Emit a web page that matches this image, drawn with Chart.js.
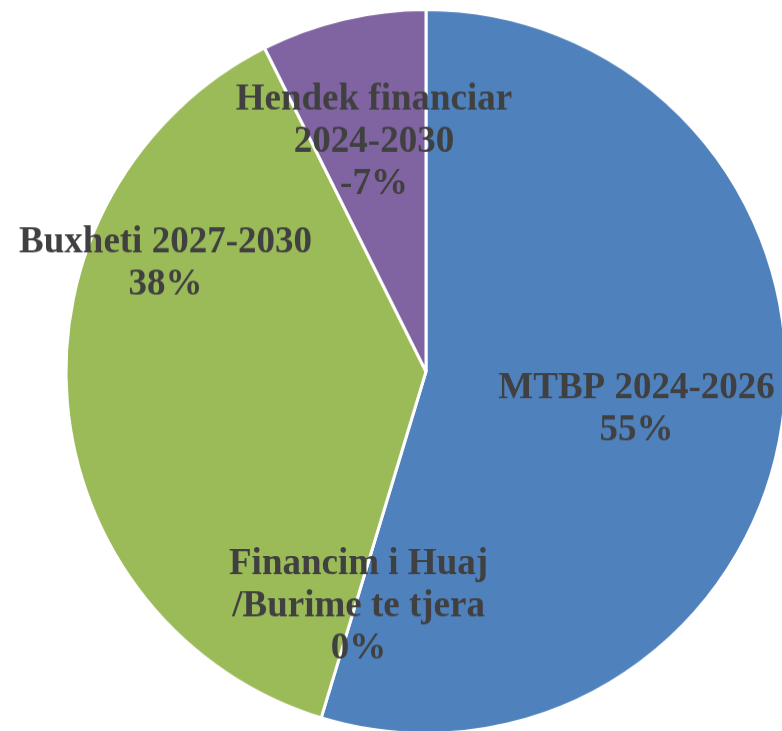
<!DOCTYPE html>
<html>
<head>
<meta charset="utf-8">
<script src="https://cdn.jsdelivr.net/npm/chart.js@4/dist/chart.umd.min.js"></script>
<style>
  html, body { margin: 0; padding: 0; background: #fff; overflow: hidden; width: 782px; height: 731px; }
  canvas { display: block; }
</style>
</head>
<body>
<canvas id="myChart" width="852" height="740" style="width:852px;height:744px"></canvas>
<script>
// datos del grafico
const categories = ['MTBP 2024-2026', 'Financim i Huaj\n/Burime te tjera', 'Buxheti 2027-2030', 'Hendek financiar\n2024-2030'];
const shares = [54.7, 0, 37.9, -7.4];   // % (hendek = negativo)
const sliceColors = ['#4F81BD', '#4F81BD', '#9BBB59', '#8064A2'];

// posicion de etiquetas: desplazamiento angular (grados) y fraccion del radio
const labelAngleShift = [1.1, -0.7, 27.5, 0.6];
const labelRadius = [0.593, 0.671, 0.784, 0.656];

const pctText = shares.map(v => Math.round(v) + '%');

// plugin para las etiquetas
const pieLabels = {
  id: 'pieLabels',
  afterDatasetsDraw(chart) {
    const ctx = chart.ctx;
    const meta = chart.getDatasetMeta(0);
    ctx.save();
    ctx.font = 'bold 37px "Liberation Serif", "Times New Roman", serif';
    ctx.fillStyle = '#404040';
    ctx.textAlign = 'center';
    ctx.textBaseline = 'middle';
    meta.data.forEach((arc, i) => {
      const p = arc.getProps(['x', 'y', 'startAngle', 'endAngle', 'outerRadius'], true);
      const mid = (p.startAngle + p.endAngle) / 2 + labelAngleShift[i] * Math.PI / 180;
      const r = p.outerRadius * labelRadius[i];
      const cx = p.x + Math.cos(mid) * r;
      const cy = p.y + Math.sin(mid) * r;
      const lines = categories[i].split('\n').concat([pctText[i]]);
      const lh = 42;
      const top = cy - (lines.length - 1) * lh / 2;
      lines.forEach((t, k) => ctx.fillText(t, cx, top + k * lh + 2));
    });
    ctx.restore();
  }
};

const data = {
  labels: categories,
  datasets: [{
    data: shares.map(v => Math.abs(v)),
    backgroundColor: sliceColors,
    borderColor: '#ffffff',
    borderWidth: 3
  }]
};

const config = {
  type: 'pie',
  data,
  options: {
    responsive: false,
    animation: false,
    devicePixelRatio: 1,
    layout: { padding: { top: 8, bottom: 9, left: 8, right: 8 } },
    plugins: {
      legend: { display: false },
      tooltip: { enabled: false }
    }
  },
  plugins: [pieLabels]
};

const myChart = new Chart(document.getElementById('myChart'), config);
</script>
</body>
</html>
